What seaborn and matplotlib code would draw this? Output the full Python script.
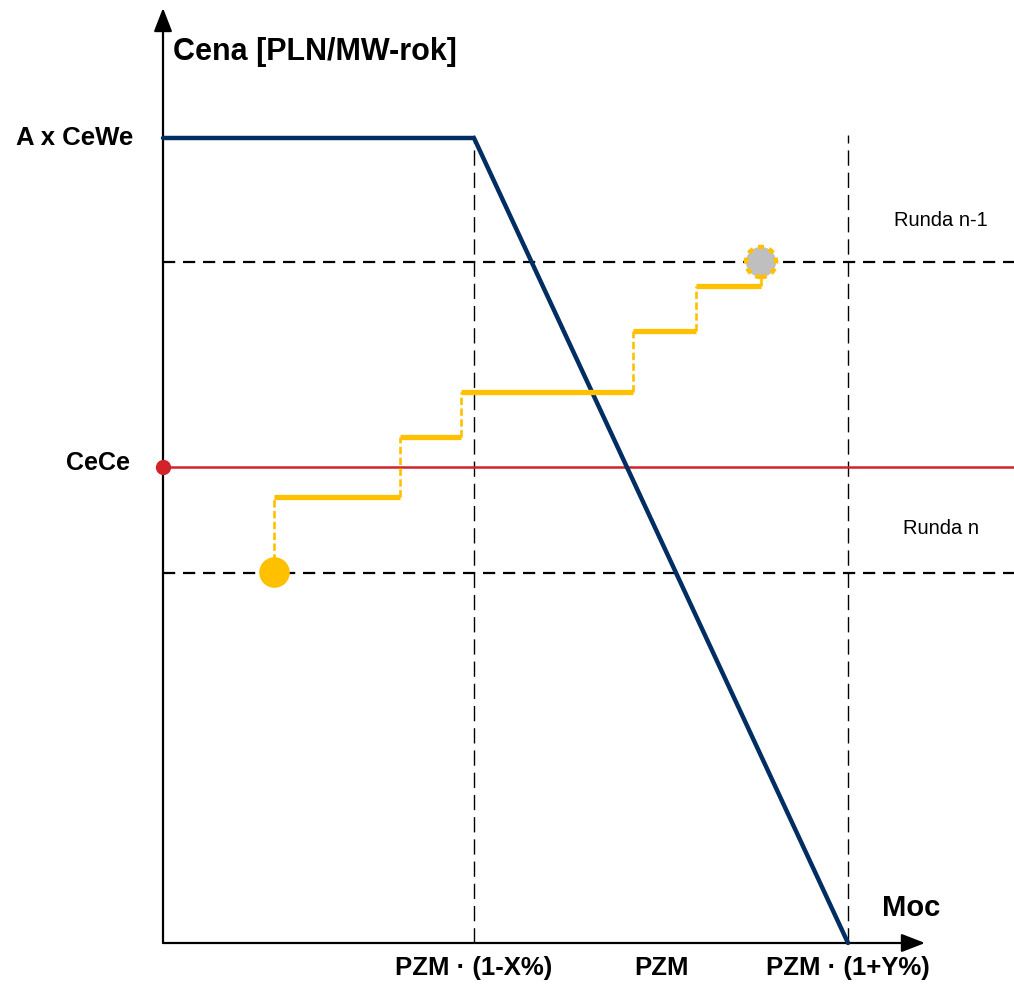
import matplotlib
matplotlib.use("Agg")
import matplotlib.pyplot as plt
import seaborn as sns
import pandas as pd

# levels (price axis) and capacity points, in chart units
price_cewe = 805
price_prev_round = 681
price_cece = 476
price_round_n = 370
pzm_low = 311
pzm_mid = 498
pzm_high = 685
axis_right = 851

# bid curve (step function): corner x positions and price levels
bid_x = [111, 237, 298, 470, 533, 598]
bid_y = [371, 446, 506, 551, 612, 657, 681]

x_labels = ["PZM · (1-X%)", "PZM", "PZM · (1+Y%)"]

NAVY = "#002D62"
YELLOW = "#FFC000"
RED = "#D2232A"
GREY = "#BFBFBF"

sns.set_style("white")
plt.rcParams["font.family"] = ["Liberation Sans", "DejaVu Sans"]
plt.rcParams["text.color"] = "black"

fig = plt.figure(figsize=(10.14, 9.85), dpi=100)
ax = fig.add_axes([0, 0, 1, 1])
ax.set_xlim(-163, 851)
ax.set_ylim(-42, 943)
ax.axis("off")

# round boundaries
for lvl in [price_prev_round, price_round_n]:
    ax.plot([0, axis_right], [lvl, lvl], color="black", lw=1.6,
            dashes=(5.5, 3.5), zorder=2)
for xv in [pzm_low, pzm_high]:
    ax.plot([xv, xv], [0, 808], color="black", lw=1.0, dashes=(11, 5), zorder=2)

# CeCe
ax.plot([0, axis_right], [price_cece, price_cece], color=RED, lw=1.8, zorder=3)
ax.plot([0], [price_cece], "o", color=RED, ms=10, zorder=6, clip_on=False)

# demand curve
demand = pd.DataFrame({"moc": [0, pzm_low, pzm_high],
                       "cena": [price_cewe, price_cewe, 0]})
sns.lineplot(data=demand, x="moc", y="cena", sort=False, color=NAVY, lw=3.2,
             ax=ax, zorder=4)

# bid steps: solid horizontals, dashed verticals
for k in range(len(bid_x) - 1):
    ax.plot([bid_x[k], bid_x[k + 1]], [bid_y[k + 1], bid_y[k + 1]],
            color=YELLOW, lw=3.8, solid_capstyle="butt", zorder=5)
for k in range(len(bid_x)):
    ax.plot([bid_x[k], bid_x[k]], [bid_y[k], bid_y[k + 1]],
            color=YELLOW, lw=1.9, dashes=(2.8, 1.3), zorder=5)
ax.plot([bid_x[0]], [bid_y[0]], "o", color=YELLOW, ms=21, mec=YELLOW, zorder=6)
ax.scatter([bid_x[-1]], [bid_y[-1]], s=470, color=GREY, edgecolor=YELLOW,
           linewidth=3.2, linestyle=(0, (1.3, 1.2)), zorder=6)

# axes arrows
arrow = dict(arrowstyle="-|>,head_length=0.9,head_width=0.35", lw=1.6,
             color="black", shrinkA=0, shrinkB=0, mutation_scale=16)
ax.annotate("", xy=(0, 935), xytext=(0, 0), arrowprops=arrow)
ax.annotate("", xy=(762, 0), xytext=(0, 0), arrowprops=arrow)

# texts
ax.text(10, 891, "Cena [PLN/MW-rok]", fontsize=22, fontweight="bold",
        ha="left", va="center")
ax.text(719, 35, "Moc", fontsize=21, fontweight="bold", ha="left", va="center")
ax.text(-30, price_cewe, "A x CeWe", fontsize=18.5, fontweight="bold",
        ha="right", va="center")
ax.text(-33, 480, "CeCe", fontsize=18, fontweight="bold", ha="right", va="center")
for xv, lab in zip([pzm_low, pzm_mid, pzm_high], x_labels):
    ax.text(xv, -25, lab, fontsize=18.5, fontweight="bold", ha="center", va="center")
ax.text(778, 723, "Runda n-1", fontsize=14.5, ha="center", va="center")
ax.text(778, 415, "Runda n", fontsize=14.5, ha="center", va="center")

fig.savefig("out.png", dpi=100)
